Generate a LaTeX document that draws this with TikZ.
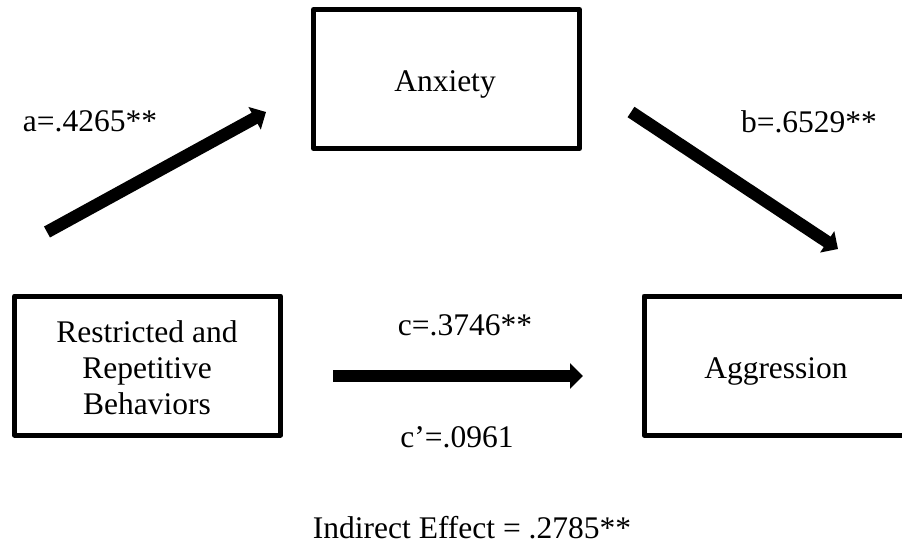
\documentclass[tikz,border=0pt]{standalone}
\usepackage{fontspec}
\setmainfont{Liberation Serif}
\usetikzlibrary{arrows.meta}
\begin{document}
\begin{tikzpicture}[x=1pt,y=-1pt,
  box/.style={draw, line width=5pt, line join=round, minimum width=266pt, minimum height=139pt, inner sep=0pt},
  txt/.style={anchor=base, inner sep=0pt, font=\fontsize{31.5}{36}\selectfont},
  fatarrow/.style={line width=12.5pt, -{Triangle[length=13pt,width=25pt]}}]
\useasboundingbox (0,0) rectangle (902,546);
\clip (0,0) rectangle (902,546);
% boxes
\node[box] (anx) at (446.5,79) {};
\node[box] (rrb) at (147.5,365.5) {};
\node[box] (agg) at (777,365.5) {};
% box texts
\node[txt] (anxt) at (445,91) {Anxiety};
\node[txt] (rrb1) at (147,342) {Restricted and};
\node[txt] (rrb2) at (147,378) {Repetitive};
\node[txt] (rrb3) at (147,414) {Behaviors};
\node[txt] (aggt) at (776,378) {Aggression};
% path labels
\node[txt] (la) at (90,131) {a=.4265**};
\node[txt] (lb) at (809,132) {b=.6529**};
\node[txt] (lc) at (465,335) {c=.3746**};
\node[txt] (lcp) at (457,447) {c’=.0961};
\node[txt] (lind) at (472,538) {Indirect Effect = .2785**};
% arrow end points
\coordinate (aS) at (47,232);
\coordinate (aE) at (266,112);
\coordinate (bS) at (631,112);
\coordinate (bE) at (838,249);
\coordinate (cS) at (333,376);
\coordinate (cE) at (583,376);
\draw[fatarrow] (aS) -- (aE);
\draw[fatarrow] (bS) -- (bE);
\draw[fatarrow] (cS) -- (cE);
\end{tikzpicture}
\end{document}
